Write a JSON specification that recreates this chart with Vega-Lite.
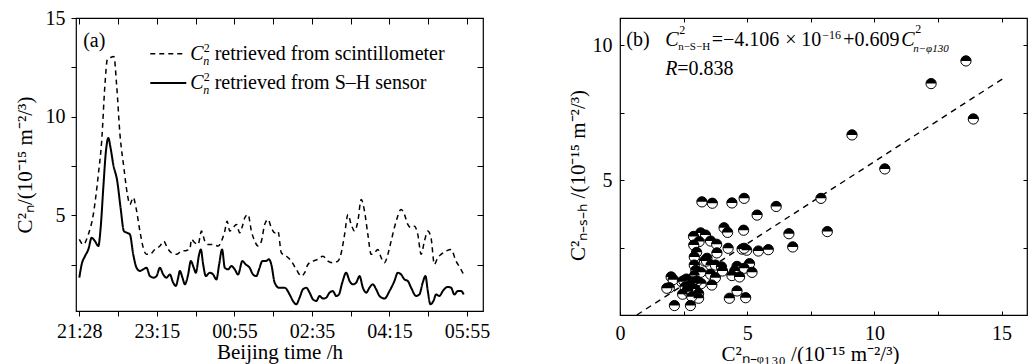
{
  "$schema": "https://vega.github.io/schema/vega-lite/v6.json",
  "background": "white",
  "padding": {"left": 13, "top": 7, "right": 0, "bottom": 0},
  "spacing": 75,
  "config": {
    "font": "Liberation Serif",
    "view": {"stroke": "black", "strokeWidth": 1.2},
    "axis": {
      "labelFont": "Liberation Serif", "titleFont": "Liberation Serif",
      "labelFontSize": 20, "titleFontSize": 21,
      "labelColor": "black", "titleColor": "black", "tickColor": "black",
      "titleFontWeight": "normal", "labelFontWeight": "normal",
      "domain": false, "grid": false, "labelFlush": false, "labelOverlap": false, "tickWidth": 1
    },
    "text": {"font": "Liberation Serif", "color": "black"}
  },
  "datasets": {
    "series": [
      {"t":0,"v":3.78,"series":"scintillometer"},{"t":0.052,"v":3.52,"series":"scintillometer"},{"t":0.116,"v":4.03,"series":"scintillometer"},{"t":0.18,"v":5.04,"series":"scintillometer"},{"t":0.245,"v":7.07,"series":"scintillometer"},{"t":0.288,"v":8.75,"series":"scintillometer"},{"t":0.33,"v":11.6,"series":"scintillometer"},{"t":0.361,"v":12.9,"series":"scintillometer"},{"t":0.403,"v":13.0,"series":"scintillometer"},{"t":0.446,"v":13.05,"series":"scintillometer"},{"t":0.481,"v":11.6,"series":"scintillometer"},{"t":0.524,"v":9.1,"series":"scintillometer"},{"t":0.575,"v":7.4,"series":"scintillometer"},{"t":0.618,"v":6.1,"series":"scintillometer"},{"t":0.652,"v":5.55,"series":"scintillometer"},{"t":0.695,"v":5.9,"series":"scintillometer"},{"t":0.73,"v":5.4,"series":"scintillometer"},{"t":0.781,"v":4.2,"series":"scintillometer"},{"t":0.824,"v":3.36,"series":"scintillometer"},{"t":0.867,"v":3.02,"series":"scintillometer"},{"t":0.91,"v":3.02,"series":"scintillometer"},{"t":0.974,"v":3.27,"series":"scintillometer"},{"t":1.039,"v":3.44,"series":"scintillometer"},{"t":1.09,"v":3.69,"series":"scintillometer"},{"t":1.133,"v":3.36,"series":"scintillometer"},{"t":1.189,"v":3.1,"series":"scintillometer"},{"t":1.253,"v":3.02,"series":"scintillometer"},{"t":1.318,"v":3.19,"series":"scintillometer"},{"t":1.382,"v":3.22,"series":"scintillometer"},{"t":1.425,"v":3.27,"series":"scintillometer"},{"t":1.446,"v":3.78,"series":"scintillometer"},{"t":1.489,"v":3.61,"series":"scintillometer"},{"t":1.532,"v":3.52,"series":"scintillometer"},{"t":1.575,"v":4.2,"series":"scintillometer"},{"t":1.618,"v":3.69,"series":"scintillometer"},{"t":1.661,"v":3.52,"series":"scintillometer"},{"t":1.725,"v":3.52,"series":"scintillometer"},{"t":1.79,"v":3.44,"series":"scintillometer"},{"t":1.833,"v":3.69,"series":"scintillometer"},{"t":1.876,"v":4.2,"series":"scintillometer"},{"t":1.906,"v":4.7,"series":"scintillometer"},{"t":1.94,"v":4.2,"series":"scintillometer"},{"t":1.983,"v":4.37,"series":"scintillometer"},{"t":2.026,"v":4.54,"series":"scintillometer"},{"t":2.069,"v":4.11,"series":"scintillometer"},{"t":2.103,"v":4.45,"series":"scintillometer"},{"t":2.133,"v":4.87,"series":"scintillometer"},{"t":2.176,"v":5.04,"series":"scintillometer"},{"t":2.219,"v":4.2,"series":"scintillometer"},{"t":2.262,"v":3.69,"series":"scintillometer"},{"t":2.305,"v":3.44,"series":"scintillometer"},{"t":2.348,"v":3.69,"series":"scintillometer"},{"t":2.391,"v":4.54,"series":"scintillometer"},{"t":2.433,"v":4.79,"series":"scintillometer"},{"t":2.476,"v":4.37,"series":"scintillometer"},{"t":2.519,"v":4.11,"series":"scintillometer"},{"t":2.562,"v":4.2,"series":"scintillometer"},{"t":2.605,"v":3.1,"series":"scintillometer"},{"t":2.67,"v":2.93,"series":"scintillometer"},{"t":2.734,"v":2.68,"series":"scintillometer"},{"t":2.798,"v":2.26,"series":"scintillometer"},{"t":2.863,"v":1.92,"series":"scintillometer"},{"t":2.906,"v":2.09,"series":"scintillometer"},{"t":2.948,"v":2.51,"series":"scintillometer"},{"t":3.013,"v":2.68,"series":"scintillometer"},{"t":3.077,"v":2.77,"series":"scintillometer"},{"t":3.142,"v":2.93,"series":"scintillometer"},{"t":3.206,"v":2.68,"series":"scintillometer"},{"t":3.27,"v":2.6,"series":"scintillometer"},{"t":3.335,"v":2.68,"series":"scintillometer"},{"t":3.378,"v":3.1,"series":"scintillometer"},{"t":3.421,"v":4.03,"series":"scintillometer"},{"t":3.464,"v":5.04,"series":"scintillometer"},{"t":3.506,"v":4.54,"series":"scintillometer"},{"t":3.549,"v":4.2,"series":"scintillometer"},{"t":3.592,"v":4.7,"series":"scintillometer"},{"t":3.635,"v":5.8,"series":"scintillometer"},{"t":3.678,"v":5.21,"series":"scintillometer"},{"t":3.721,"v":4.03,"series":"scintillometer"},{"t":3.764,"v":3.02,"series":"scintillometer"},{"t":3.807,"v":3.1,"series":"scintillometer"},{"t":3.85,"v":3.27,"series":"scintillometer"},{"t":3.893,"v":2.85,"series":"scintillometer"},{"t":3.936,"v":2.6,"series":"scintillometer"},{"t":3.979,"v":3.02,"series":"scintillometer"},{"t":4.021,"v":3.69,"series":"scintillometer"},{"t":4.086,"v":4.7,"series":"scintillometer"},{"t":4.15,"v":5.3,"series":"scintillometer"},{"t":4.193,"v":5.04,"series":"scintillometer"},{"t":4.236,"v":4.54,"series":"scintillometer"},{"t":4.279,"v":4.37,"series":"scintillometer"},{"t":4.322,"v":4.45,"series":"scintillometer"},{"t":4.365,"v":4.03,"series":"scintillometer"},{"t":4.408,"v":3.02,"series":"scintillometer"},{"t":4.451,"v":3.69,"series":"scintillometer"},{"t":4.494,"v":4.2,"series":"scintillometer"},{"t":4.536,"v":3.86,"series":"scintillometer"},{"t":4.579,"v":2.51,"series":"scintillometer"},{"t":4.622,"v":2.85,"series":"scintillometer"},{"t":4.665,"v":3.02,"series":"scintillometer"},{"t":4.73,"v":3.19,"series":"scintillometer"},{"t":4.794,"v":3.27,"series":"scintillometer"},{"t":4.858,"v":2.68,"series":"scintillometer"},{"t":4.91,"v":2.34,"series":"scintillometer"},{"t":4.957,"v":2.0,"series":"scintillometer"},
      {"t":0,"v":1.84,"series":"S-H"},{"t":0.03,"v":2.51,"series":"S-H"},{"t":0.073,"v":2.93,"series":"S-H"},{"t":0.116,"v":3.27,"series":"S-H"},{"t":0.159,"v":3.86,"series":"S-H"},{"t":0.202,"v":3.69,"series":"S-H"},{"t":0.245,"v":3.44,"series":"S-H"},{"t":0.275,"v":4.37,"series":"S-H"},{"t":0.309,"v":6.39,"series":"S-H"},{"t":0.343,"v":8.25,"series":"S-H"},{"t":0.373,"v":8.92,"series":"S-H"},{"t":0.403,"v":8.41,"series":"S-H"},{"t":0.438,"v":7.57,"series":"S-H"},{"t":0.489,"v":6.73,"series":"S-H"},{"t":0.532,"v":5.38,"series":"S-H"},{"t":0.575,"v":4.2,"series":"S-H"},{"t":0.618,"v":4.11,"series":"S-H"},{"t":0.652,"v":4.03,"series":"S-H"},{"t":0.695,"v":3.02,"series":"S-H"},{"t":0.738,"v":2.34,"series":"S-H"},{"t":0.781,"v":2.18,"series":"S-H"},{"t":0.824,"v":2.26,"series":"S-H"},{"t":0.867,"v":2.34,"series":"S-H"},{"t":0.91,"v":1.92,"series":"S-H"},{"t":0.961,"v":1.84,"series":"S-H"},{"t":0.996,"v":1.92,"series":"S-H"},{"t":1.039,"v":2.34,"series":"S-H"},{"t":1.082,"v":2.0,"series":"S-H"},{"t":1.124,"v":1.84,"series":"S-H"},{"t":1.167,"v":2.0,"series":"S-H"},{"t":1.21,"v":1.59,"series":"S-H"},{"t":1.245,"v":1.42,"series":"S-H"},{"t":1.275,"v":1.84,"series":"S-H"},{"t":1.296,"v":2.18,"series":"S-H"},{"t":1.33,"v":1.84,"series":"S-H"},{"t":1.361,"v":1.5,"series":"S-H"},{"t":1.403,"v":2.0,"series":"S-H"},{"t":1.438,"v":2.68,"series":"S-H"},{"t":1.476,"v":2.34,"series":"S-H"},{"t":1.502,"v":2.09,"series":"S-H"},{"t":1.545,"v":3.02,"series":"S-H"},{"t":1.567,"v":3.27,"series":"S-H"},{"t":1.597,"v":2.51,"series":"S-H"},{"t":1.631,"v":1.92,"series":"S-H"},{"t":1.682,"v":2.09,"series":"S-H"},{"t":1.725,"v":2.0,"series":"S-H"},{"t":1.768,"v":1.75,"series":"S-H"},{"t":1.803,"v":2.51,"series":"S-H"},{"t":1.841,"v":3.27,"series":"S-H"},{"t":1.876,"v":2.34,"series":"S-H"},{"t":1.918,"v":2.26,"series":"S-H"},{"t":1.961,"v":2.43,"series":"S-H"},{"t":2.004,"v":2.26,"series":"S-H"},{"t":2.047,"v":2.0,"series":"S-H"},{"t":2.103,"v":2.68,"series":"S-H"},{"t":2.146,"v":2.51,"series":"S-H"},{"t":2.197,"v":2.34,"series":"S-H"},{"t":2.24,"v":2.0,"series":"S-H"},{"t":2.283,"v":1.92,"series":"S-H"},{"t":2.318,"v":2.26,"series":"S-H"},{"t":2.361,"v":2.68,"series":"S-H"},{"t":2.403,"v":2.68,"series":"S-H"},{"t":2.446,"v":2.77,"series":"S-H"},{"t":2.476,"v":2.51,"series":"S-H"},{"t":2.519,"v":1.59,"series":"S-H"},{"t":2.575,"v":1.33,"series":"S-H"},{"t":2.648,"v":1.33,"series":"S-H"},{"t":2.712,"v":0.99,"series":"S-H"},{"t":2.755,"v":0.66,"series":"S-H"},{"t":2.798,"v":0.49,"series":"S-H"},{"t":2.841,"v":0.83,"series":"S-H"},{"t":2.884,"v":1.25,"series":"S-H"},{"t":2.927,"v":1.33,"series":"S-H"},{"t":2.97,"v":1.08,"series":"S-H"},{"t":3.013,"v":0.74,"series":"S-H"},{"t":3.056,"v":0.66,"series":"S-H"},{"t":3.099,"v":0.91,"series":"S-H"},{"t":3.142,"v":0.78,"series":"S-H"},{"t":3.185,"v":0.83,"series":"S-H"},{"t":3.227,"v":1.08,"series":"S-H"},{"t":3.27,"v":1.16,"series":"S-H"},{"t":3.313,"v":0.91,"series":"S-H"},{"t":3.348,"v":0.99,"series":"S-H"},{"t":3.391,"v":1.59,"series":"S-H"},{"t":3.442,"v":2.09,"series":"S-H"},{"t":3.485,"v":1.67,"series":"S-H"},{"t":3.528,"v":1.5,"series":"S-H"},{"t":3.571,"v":1.59,"series":"S-H"},{"t":3.614,"v":1.92,"series":"S-H"},{"t":3.657,"v":1.33,"series":"S-H"},{"t":3.7,"v":1.08,"series":"S-H"},{"t":3.742,"v":1.33,"series":"S-H"},{"t":3.785,"v":1.5,"series":"S-H"},{"t":3.828,"v":1.25,"series":"S-H"},{"t":3.871,"v":0.91,"series":"S-H"},{"t":3.936,"v":0.78,"series":"S-H"},{"t":4.0,"v":1.16,"series":"S-H"},{"t":4.064,"v":1.67,"series":"S-H"},{"t":4.107,"v":2.09,"series":"S-H"},{"t":4.15,"v":2.0,"series":"S-H"},{"t":4.193,"v":1.75,"series":"S-H"},{"t":4.236,"v":1.67,"series":"S-H"},{"t":4.279,"v":1.33,"series":"S-H"},{"t":4.343,"v":0.91,"series":"S-H"},{"t":4.386,"v":0.99,"series":"S-H"},{"t":4.429,"v":1.59,"series":"S-H"},{"t":4.464,"v":1.92,"series":"S-H"},{"t":4.494,"v":1.16,"series":"S-H"},{"t":4.528,"v":0.49,"series":"S-H"},{"t":4.567,"v":0.66,"series":"S-H"},{"t":4.601,"v":0.99,"series":"S-H"},{"t":4.644,"v":0.91,"series":"S-H"},{"t":4.687,"v":1.16,"series":"S-H"},{"t":4.751,"v":1.37,"series":"S-H"},{"t":4.794,"v":1.33,"series":"S-H"},{"t":4.837,"v":0.99,"series":"S-H"},{"t":4.88,"v":1.16,"series":"S-H"},{"t":4.923,"v":1.16,"series":"S-H"},{"t":4.957,"v":0.99,"series":"S-H"}
    ],
    "scatter": [
      {"x":13.6,"y":9.41},{"x":12.23,"y":8.57},{"x":13.89,"y":7.26},{"x":9.12,"y":6.67},{"x":10.41,"y":5.41},{"x":7.9,"y":4.32},{"x":8.15,"y":3.09},{"x":6.64,"y":3.01},{"x":6.79,"y":2.52},{"x":6.14,"y":4.02},{"x":5.39,"y":3.7},{"x":4.88,"y":4.32},{"x":4.4,"y":4.15},{"x":3.63,"y":4.14},{"x":3.22,"y":4.19},{"x":4.09,"y":3.23},{"x":4.23,"y":3.06},{"x":4.86,"y":3.14},{"x":3.17,"y":3.04},{"x":3.36,"y":2.96},{"x":2.89,"y":2.91},{"x":3.11,"y":2.72},{"x":3.56,"y":2.74},{"x":3.8,"y":2.62},{"x":2.9,"y":2.59},{"x":4.25,"y":2.47},{"x":4.8,"y":2.44},{"x":4.98,"y":2.4},{"x":5.44,"y":2.37},{"x":5.83,"y":2.42},{"x":3.81,"y":2.3},{"x":3.01,"y":2.32},{"x":2.92,"y":2.15},{"x":3.42,"y":2.1},{"x":3.32,"y":2.0},{"x":3.56,"y":1.85},{"x":3.75,"y":1.85},{"x":3.99,"y":1.78},{"x":2.92,"y":1.85},{"x":2.98,"y":1.65},{"x":2.93,"y":1.46},{"x":3.56,"y":1.51},{"x":3.75,"y":1.38},{"x":4.03,"y":1.63},{"x":4.6,"y":1.8},{"x":5.09,"y":1.9},{"x":4.88,"y":1.73},{"x":4.51,"y":1.63},{"x":5.19,"y":1.58},{"x":4.4,"y":1.46},{"x":4.7,"y":1.41},{"x":3.61,"y":1.11},{"x":3.19,"y":1.16},{"x":2.61,"y":1.33},{"x":2.43,"y":1.23},{"x":2.01,"y":1.41},{"x":2.09,"y":1.31},{"x":1.94,"y":1.01},{"x":1.84,"y":0.99},{"x":2.46,"y":0.77},{"x":2.69,"y":0.86},{"x":2.82,"y":0.99},{"x":2.95,"y":0.96},{"x":3.09,"y":0.79},{"x":3.09,"y":0.62},{"x":2.82,"y":0.68},{"x":2.64,"y":0.96},{"x":2.14,"y":0.35},{"x":2.77,"y":0.35},{"x":4.3,"y":0.62},{"x":4.6,"y":0.89},{"x":4.94,"y":0.64},{"x":2.89,"y":1.17},{"x":2.76,"y":1.11},{"x":2.56,"y":1.05},{"x":3.04,"y":1.26},{"x":2.85,"y":1.23},{"x":3.17,"y":1.58},{"x":3.4,"y":2.0},{"x":4.88,"y":2.47},{"x":2.51,"y":1.27}
    ],
    "fit": [{"x":0.66,"y":0},{"x":15.11,"y":8.79}]
  },
  "hconcat": [
    {
      "width": 407, "height": 293,
      "layer": [
        {
          "data": {"name": "series"},
          "mark": {"type": "line", "interpolate": "monotone", "color": "black"},
          "encoding": {
            "x": {"field": "t", "type": "quantitative", "scale": {"domain": [-0.043, 5.206], "nice": false, "zero": false},
                  "axis": {"orient": "bottom", "title": "Beijing time /h", "values": [0,0.5,1,1.5,2,2.5,3,3.5,4,4.5,5], "labelExpr": "datum.value % 1 ? '' : ['21:28','23:15','00:55','02:35','04:15','05:55'][datum.value]", "tickSize": 5, "labelPadding": 5, "titlePadding": 0}},
            "y": {"field": "v", "type": "quantitative", "scale": {"domain": [0.15, 15], "nice": false, "zero": false},
                  "axis": {"orient": "left", "title": "C²ₙ/(10⁻¹⁵ m⁻²/³)", "values": [2.5,5,7.5,10,12.5,15], "labelExpr": "datum.value % 5 ? '' : datum.label", "tickSize": 5, "labelPadding": 6, "titlePadding": 10}},
            "strokeDash": {"field": "series", "type": "nominal", "scale": {"domain": ["scintillometer", "S-H"], "range": [[5, 4], [1, 0]]}, "legend": null},
            "strokeWidth": {"field": "series", "type": "nominal", "scale": {"domain": ["scintillometer", "S-H"], "range": [1.5, 2]}, "legend": null}
          }
        },
        {
          "data": {"name": "series"},
          "mark": {"type": "point", "opacity": 0},
          "encoding": {
            "x": {"field": "t", "type": "quantitative", "scale": {"domain": [-0.043, 5.206], "nice": false, "zero": false},
                  "axis": {"orient": "top", "title": null, "labels": false, "values": [0,0.5,1,1.5,2,2.5,3,3.5,4,4.5,5], "tickSize": -6}},
            "y": {"field": "v", "type": "quantitative", "scale": {"domain": [0.15, 15], "nice": false, "zero": false},
                  "axis": {"orient": "right", "title": null, "labels": false, "values": [2.5,5,7.5,10,12.5,15], "tickSize": -6}}
          }
        },
        {
          "data": {"values": [{}]},
          "mark": {"type": "text", "text": "(a)", "fontSize": 20, "align": "left", "baseline": "middle"},
          "encoding": {"x": {"datum": 0.05, "type": "quantitative", "axis": null}, "y": {"datum": 13.82, "type": "quantitative", "axis": null}}
        },
        {
          "data": {"values": [{}]},
          "mark": {"type": "rule", "color": "black", "strokeDash": [5, 4], "strokeWidth": 1.5},
          "encoding": {"x": {"datum": 0.915, "type": "quantitative", "axis": null}, "x2": {"datum": 1.379}, "y": {"datum": 13.19, "type": "quantitative", "axis": null}}
        },
        {
          "data": {"values": [{}]},
          "mark": {"type": "rule", "color": "black", "strokeWidth": 2},
          "encoding": {"x": {"datum": 0.915, "type": "quantitative", "axis": null}, "x2": {"datum": 1.379}, "y": {"datum": 11.7, "type": "quantitative", "axis": null}}
        },
        {
          "data": {"values": [{}]},
          "mark": {"type": "text", "text": "C", "fontSize": 20, "fontStyle": "italic", "align": "left", "baseline": "middle"},
          "encoding": {"x": {"datum": 1.43, "type": "quantitative", "axis": null}, "y": {"datum": 13.19, "type": "quantitative", "axis": null}}
        },
        {
          "data": {"values": [{}]},
          "mark": {"type": "text", "text": "2", "fontSize": 12, "align": "left", "baseline": "middle", "dx": 13.5, "dy": -6},
          "encoding": {"x": {"datum": 1.43, "type": "quantitative", "axis": null}, "y": {"datum": 13.19, "type": "quantitative", "axis": null}}
        },
        {
          "data": {"values": [{}]},
          "mark": {"type": "text", "text": "n", "fontSize": 12, "fontStyle": "italic", "align": "left", "baseline": "middle", "dx": 13, "dy": 7},
          "encoding": {"x": {"datum": 1.43, "type": "quantitative", "axis": null}, "y": {"datum": 13.19, "type": "quantitative", "axis": null}}
        },
        {
          "data": {"values": [{}]},
          "mark": {"type": "text", "text": "retrieved from scintillometer", "fontSize": 20, "align": "left", "baseline": "middle", "dx": 24.5},
          "encoding": {"x": {"datum": 1.43, "type": "quantitative", "axis": null}, "y": {"datum": 13.19, "type": "quantitative", "axis": null}}
        },
        {
          "data": {"values": [{}]},
          "mark": {"type": "text", "text": "C", "fontSize": 20, "fontStyle": "italic", "align": "left", "baseline": "middle"},
          "encoding": {"x": {"datum": 1.43, "type": "quantitative", "axis": null}, "y": {"datum": 11.7, "type": "quantitative", "axis": null}}
        },
        {
          "data": {"values": [{}]},
          "mark": {"type": "text", "text": "2", "fontSize": 12, "align": "left", "baseline": "middle", "dx": 13.5, "dy": -6},
          "encoding": {"x": {"datum": 1.43, "type": "quantitative", "axis": null}, "y": {"datum": 11.7, "type": "quantitative", "axis": null}}
        },
        {
          "data": {"values": [{}]},
          "mark": {"type": "text", "text": "n", "fontSize": 12, "fontStyle": "italic", "align": "left", "baseline": "middle", "dx": 13, "dy": 7},
          "encoding": {"x": {"datum": 1.43, "type": "quantitative", "axis": null}, "y": {"datum": 11.7, "type": "quantitative", "axis": null}}
        },
        {
          "data": {"values": [{}]},
          "mark": {"type": "text", "text": "retrieved from S–H sensor", "fontSize": 20, "align": "left", "baseline": "middle", "dx": 24.5},
          "encoding": {"x": {"datum": 1.43, "type": "quantitative", "axis": null}, "y": {"datum": 11.7, "type": "quantitative", "axis": null}}
        }
      ],
      "resolve": {"axis": {"x": "independent", "y": "independent"}}
    },
    {
      "width": 407, "height": 297,
      "layer": [
        {
          "data": {"name": "fit"},
          "mark": {"type": "line", "color": "black", "strokeDash": [6, 5], "strokeWidth": 1.4},
          "encoding": {
            "x": {"field": "x", "type": "quantitative", "scale": {"domain": [0, 16], "nice": false, "zero": false},
                  "axis": {"orient": "bottom", "title": "C²ₙ₋ᵩ₁₃₀ /(10⁻¹⁵ m⁻²/³)", "titleX": 190, "values": [0,2.5,5,7.5,10,12.5,15], "labelExpr": "datum.value % 5 ? '' : datum.label", "tickSize": -4, "labelPadding": 12, "titlePadding": 0}},
            "y": {"field": "y", "type": "quantitative", "scale": {"domain": [0, 11], "nice": false, "zero": false},
                  "axis": {"orient": "left", "title": "C²ₙ₋ₛ₋ₕ /(10⁻¹⁵ m⁻²/³)", "titleY": 157, "values": [2.5,5,7.5,10], "labelExpr": "datum.value % 5 ? '' : datum.label", "tickSize": -4, "labelPadding": 12, "titlePadding": 4}}
          }
        },
        {
          "data": {"name": "scatter"},
          "mark": {"type": "point", "shape": "circle", "filled": true, "fill": "white", "stroke": "black", "strokeWidth": 1, "size": 105, "opacity": 1},
          "encoding": {
            "x": {"field": "x", "type": "quantitative", "scale": {"domain": [0, 16], "nice": false, "zero": false}, "axis": null},
            "y": {"field": "y", "type": "quantitative", "scale": {"domain": [0, 11], "nice": false, "zero": false}, "axis": null}
          }
        },
        {
          "data": {"name": "scatter"},
          "mark": {"type": "point", "shape": "M-1,0A1,1 0 0 1 1,0Z", "filled": true, "fill": "black", "strokeWidth": 0, "size": 105, "opacity": 1},
          "encoding": {
            "x": {"field": "x", "type": "quantitative", "scale": {"domain": [0, 16], "nice": false, "zero": false}, "axis": null},
            "y": {"field": "y", "type": "quantitative", "scale": {"domain": [0, 11], "nice": false, "zero": false}, "axis": null}
          }
        },
        {
          "data": {"name": "scatter"},
          "mark": {"type": "point", "opacity": 0},
          "encoding": {
            "x": {"field": "x", "type": "quantitative", "scale": {"domain": [0, 16], "nice": false, "zero": false},
                  "axis": {"orient": "top", "title": null, "labels": false, "values": [0,2.5,5,7.5,10,12.5,15], "tickSize": -4}},
            "y": {"field": "y", "type": "quantitative", "scale": {"domain": [0, 11], "nice": false, "zero": false},
                  "axis": {"orient": "right", "title": null, "labels": false, "values": [2.5,5,7.5,10], "tickSize": -4}}
          }
        },
        {
          "data": {"values": [{}]},
          "mark": {"type": "text", "text": "(b)", "fontSize": 20, "align": "left", "baseline": "middle"},
          "encoding": {"x": {"datum": 0.25, "type": "quantitative", "axis": null}, "y": {"datum": 10.2, "type": "quantitative", "axis": null}}
        },
        {
          "data": {"values": [{}]},
          "mark": {"type": "text", "text": "C", "fontSize": 20, "fontStyle": "italic", "align": "left", "baseline": "middle"},
          "encoding": {"x": {"datum": 1.775, "type": "quantitative", "axis": null}, "y": {"datum": 10.2, "type": "quantitative", "axis": null}}
        },
        {
          "data": {"values": [{}]},
          "mark": {"type": "text", "text": "2", "fontSize": 12, "align": "left", "baseline": "middle", "dx": 14, "dy": -10},
          "encoding": {"x": {"datum": 1.775, "type": "quantitative", "axis": null}, "y": {"datum": 10.2, "type": "quantitative", "axis": null}}
        },
        {
          "data": {"values": [{}]},
          "mark": {"type": "text", "text": "n−S−H", "fontSize": 11, "align": "left", "baseline": "middle", "dx": 13, "dy": 7},
          "encoding": {"x": {"datum": 1.775, "type": "quantitative", "axis": null}, "y": {"datum": 10.2, "type": "quantitative", "axis": null}}
        },
        {
          "data": {"values": [{}]},
          "mark": {"type": "text", "text": "=−4.106", "fontSize": 20, "align": "left", "baseline": "middle", "dx": 46.6},
          "encoding": {"x": {"datum": 1.775, "type": "quantitative", "axis": null}, "y": {"datum": 10.2, "type": "quantitative", "axis": null}}
        },
        {
          "data": {"values": [{}]},
          "mark": {"type": "text", "text": "×", "fontSize": 20, "align": "left", "baseline": "middle", "dx": 120},
          "encoding": {"x": {"datum": 1.775, "type": "quantitative", "axis": null}, "y": {"datum": 10.2, "type": "quantitative", "axis": null}}
        },
        {
          "data": {"values": [{}]},
          "mark": {"type": "text", "text": "10", "fontSize": 20, "align": "left", "baseline": "middle", "dx": 136},
          "encoding": {"x": {"datum": 1.775, "type": "quantitative", "axis": null}, "y": {"datum": 10.2, "type": "quantitative", "axis": null}}
        },
        {
          "data": {"values": [{}]},
          "mark": {"type": "text", "text": "−16", "fontSize": 12, "align": "left", "baseline": "middle", "dx": 157, "dy": -5},
          "encoding": {"x": {"datum": 1.775, "type": "quantitative", "axis": null}, "y": {"datum": 10.2, "type": "quantitative", "axis": null}}
        },
        {
          "data": {"values": [{}]},
          "mark": {"type": "text", "text": "+0.609", "fontSize": 20, "align": "left", "baseline": "middle", "dx": 178},
          "encoding": {"x": {"datum": 1.775, "type": "quantitative", "axis": null}, "y": {"datum": 10.2, "type": "quantitative", "axis": null}}
        },
        {
          "data": {"values": [{}]},
          "mark": {"type": "text", "text": "C", "fontSize": 20, "fontStyle": "italic", "align": "left", "baseline": "middle", "dx": 236},
          "encoding": {"x": {"datum": 1.775, "type": "quantitative", "axis": null}, "y": {"datum": 10.2, "type": "quantitative", "axis": null}}
        },
        {
          "data": {"values": [{}]},
          "mark": {"type": "text", "text": "2", "fontSize": 12, "align": "left", "baseline": "middle", "dx": 250, "dy": -11},
          "encoding": {"x": {"datum": 1.775, "type": "quantitative", "axis": null}, "y": {"datum": 10.2, "type": "quantitative", "axis": null}}
        },
        {
          "data": {"values": [{}]},
          "mark": {"type": "text", "text": "n−φ130", "fontSize": 11, "fontStyle": "italic", "align": "left", "baseline": "middle", "dx": 248, "dy": 9},
          "encoding": {"x": {"datum": 1.775, "type": "quantitative", "axis": null}, "y": {"datum": 10.2, "type": "quantitative", "axis": null}}
        },
        {
          "data": {"values": [{}]},
          "mark": {"type": "text", "text": "R", "fontSize": 20, "fontStyle": "italic", "align": "left", "baseline": "middle"},
          "encoding": {"x": {"datum": 1.775, "type": "quantitative", "axis": null}, "y": {"datum": 9.12, "type": "quantitative", "axis": null}}
        },
        {
          "data": {"values": [{}]},
          "mark": {"type": "text", "text": "=0.838", "fontSize": 20, "align": "left", "baseline": "middle", "dx": 12},
          "encoding": {"x": {"datum": 1.775, "type": "quantitative", "axis": null}, "y": {"datum": 9.12, "type": "quantitative", "axis": null}}
        }
      ],
      "resolve": {"axis": {"x": "independent", "y": "independent"}}
    }
  ]
}
